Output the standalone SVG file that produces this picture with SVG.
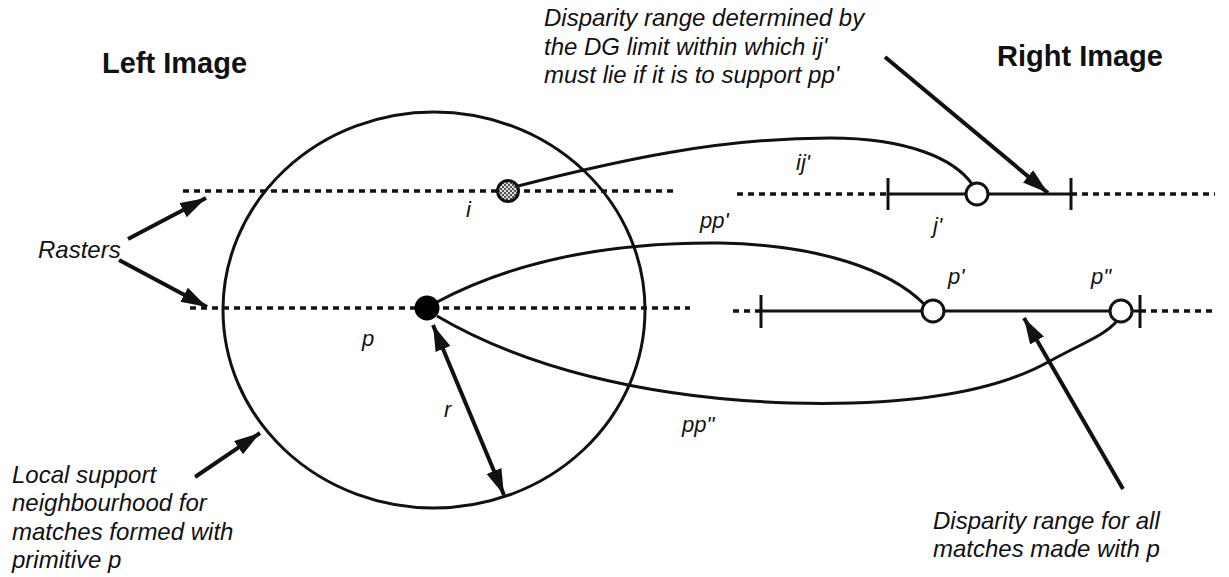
<svg xmlns="http://www.w3.org/2000/svg" width="1229" height="577" viewBox="0 0 1229 577">
<style>
.t{font-family:"Liberation Sans",Arial,sans-serif;font-style:italic;font-size:24px;fill:#111}
.h{font-family:"Liberation Sans",Arial,sans-serif;font-weight:bold;font-size:29px;fill:#111}
.lbl{font-family:"Liberation Sans",Arial,sans-serif;font-style:italic;font-size:22px;fill:#111}
.dot{stroke:#111;stroke-width:3.5;stroke-dasharray:6 5;fill:none}
.sol{stroke:#111;stroke-width:3;fill:none}
.arr{stroke:#111;stroke-width:4;fill:none;marker-end:url(#ah)}
</style>
<defs>
<marker id="ah" markerUnits="userSpaceOnUse" markerWidth="28" markerHeight="18" refX="26" refY="8" orient="auto-start-reverse">
<path d="M0,0 L26,8 L0,16 z" fill="#111"/>
</marker>
<pattern id="chk" width="4" height="4" patternUnits="userSpaceOnUse">
<rect width="4" height="4" fill="#ddd"/>
<rect width="2" height="2" fill="#555"/>
<rect x="2" y="2" width="2" height="2" fill="#555"/>
</pattern>
</defs>
<rect width="1229" height="577" fill="#fff"/>

<g id="titles">
<text class="h" x="102" y="73">Left Image</text>
<text class="h" x="997" y="66">Right Image</text>
</g>

<g id="neighbourhood">
<ellipse cx="434" cy="310" rx="211" ry="198" class="sol"/>
</g>

<g id="rasters">
<line x1="183" y1="191" x2="675" y2="191" class="dot"/>
<line x1="190" y1="308" x2="690" y2="308" class="dot"/>
<line x1="737" y1="194" x2="888" y2="194" class="dot"/>
<line x1="1071" y1="194" x2="1215" y2="194" class="dot"/>
<line x1="733" y1="311" x2="761" y2="311" class="dot"/>
<line x1="1140" y1="311" x2="1215" y2="311" class="dot"/>
</g>

<g id="ranges">
<line x1="888" y1="194" x2="1071" y2="194" class="sol"/>
<line x1="888" y1="178" x2="888" y2="210" class="sol"/>
<line x1="1071" y1="178" x2="1071" y2="210" class="sol"/>
<line x1="761" y1="311" x2="1140" y2="311" class="sol"/>
<line x1="761" y1="295" x2="761" y2="328" class="sol"/>
<line x1="1140" y1="295" x2="1140" y2="328" class="sol"/>
</g>

<g id="connectors">
<path d="M518,186 C620,160 720,138 830,138 C910,138 955,160 972,184" class="sol"/>
<path d="M437,302 C520,258 620,242 720,243 C820,245 890,270 924,304" class="sol"/>
<path d="M437,316 C520,365 640,398 790,403 C900,406 990,395 1050,361 C1085,342 1105,335 1117,321" class="sol"/>
</g>

<g id="node-i"><circle cx="508" cy="191" r="10.5" fill="url(#chk)" stroke="#111" stroke-width="3"/></g>
<g id="node-p"><circle cx="427" cy="308" r="12.5" fill="#000"/></g>
<g id="node-j"><circle cx="977" cy="194" r="11" fill="#fff" stroke="#111" stroke-width="3"/></g>
<g id="node-p1"><circle cx="933" cy="311" r="11" fill="#fff" stroke="#111" stroke-width="3"/></g>
<g id="node-p2"><circle cx="1121" cy="311" r="11" fill="#fff" stroke="#111" stroke-width="3"/></g>

<g id="pointers">
<line x1="128" y1="239" x2="206" y2="198" class="arr"/>
<line x1="119" y1="260" x2="207" y2="307" class="arr"/>
<line x1="195" y1="477" x2="260" y2="433" class="arr"/>
<line x1="885" y1="57" x2="1048" y2="193" class="arr"/>
<line x1="1123" y1="489" x2="1024" y2="318" class="arr"/>
<line x1="433" y1="325" x2="504" y2="495" class="arr" style="marker-start:url(#ah)"/>
</g>

<g id="labels">
<text class="lbl" x="466" y="217">i</text>
<text class="lbl" x="362" y="346">p</text>
<text class="lbl" x="444" y="417">r</text>
<text class="lbl" x="682" y="432">pp"</text>
<text class="lbl" x="796" y="170">ij'</text>
<text class="lbl" x="700" y="228">pp'</text>
<text class="lbl" x="933" y="233">j'</text>
<text class="lbl" x="948" y="284">p'</text>
<text class="lbl" x="1091" y="284">p"</text>
</g>

<g id="notes">
<text class="t" x="38" y="258">Rasters</text>
<text class="t" x="12" y="483">Local support</text>
<text class="t" x="12" y="511">neighbourhood for</text>
<text class="t" x="12" y="540">matches formed with</text>
<text class="t" x="12" y="568">primitive p</text>
<text class="t" x="933" y="529">Disparity range for all</text>
<text class="t" x="933" y="557">matches made with p</text>
<text class="t" x="544" y="26">Disparity range determined by</text>
<text class="t" x="544" y="55">the DG limit within which ij'</text>
<text class="t" x="544" y="83">must lie if it is to support pp'</text>
</g>
</svg>
